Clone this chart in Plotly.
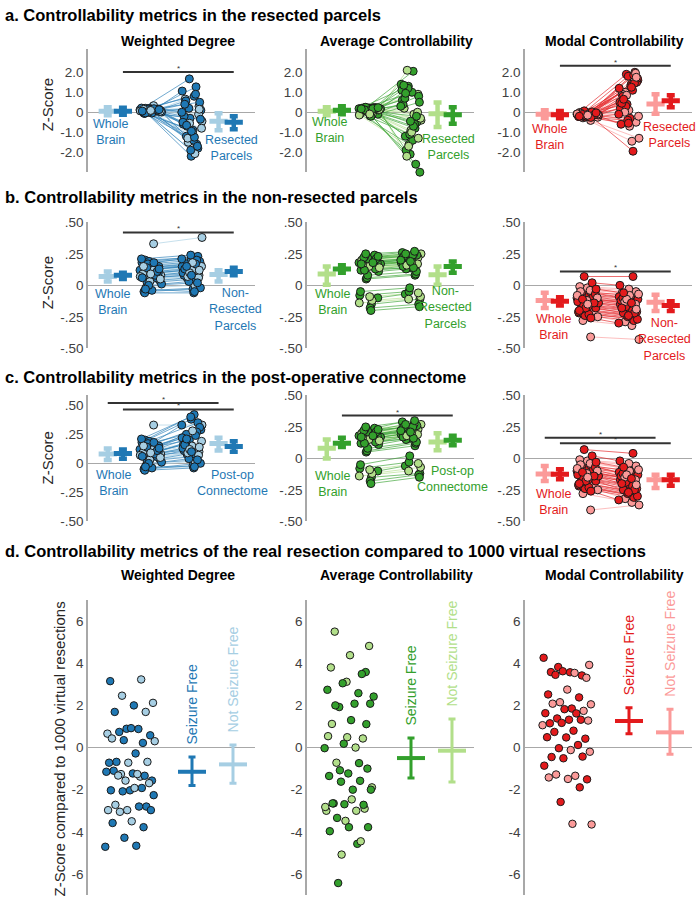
import numpy as np
import plotly.graph_objects as go

FONT = "Liberation Sans, Arial, Helvetica, sans-serif"
W, H = 700, 906

# ---------------- colours ----------------
PALETTE = {
    "blue": ("#a6cee3", "#1f78b4"),
    "green": ("#b2df8a", "#33a02c"),
    "red": ("#fb9a99", "#e31a1c"),
}
METRIC_COLORS = ["blue", "green", "red"]
METRIC_NAMES = ["Weighted Degree", "Average Controllability", "Modal Controllability"]
SECTION_TITLES = [
    "a. Controllability metrics in the resected parcels",
    "b. Controllability metrics in the non-resected parcels",
    "c. Controllability metrics in the post-operative connectome",
    "d. Controllability metrics of the real resection compared to 1000 virtual resections",
]
RIGHT_LABELS = ["Resected<br>Parcels", "Non-<br>Resected<br>Parcels", "Post-op<br>Connectome"]

# ---------------- data: rows a-c (paired per patient) ----------------
# 1 = seizure free (dark), 0 = not seizure free (light)
seizure_free = [1, 0, 1, 1, 0, 1, 1, 1, 0, 1, 1, 0, 1, 1, 1, 0, 1, 1, 0, 1,
                1, 1, 0, 1, 1, 0, 1, 1, 1, 0, 1, 0, 1, 1, 0, 1, 1, 1, 0, 1]

wd_whole = [0.12, 0.33, 0.20, 0.15, 0.05, 0.18, 0.10, 0.02, 0.08, 0.14,
            -0.05, 0.11, 0.19, 0.07, 0.13, -0.02, 0.04, 0.16, 0.09, 0.06,
            0.17, 0.01, 0.12, -0.06, 0.10, 0.03, 0.21, 0.08, 0.14, 0.05,
            -0.04, 0.15, 0.11, 0.00, 0.07, 0.18, -0.03, 0.13, 0.09, 0.06]
wd_resected = [1.67, -0.45, 0.80, -1.20, 0.30, -2.20, -0.60, 1.27, -1.50, 0.10,
               -0.90, 0.66, -1.80, -0.30, 1.06, -2.07, -0.70, 0.50, -1.10, -0.20,
               -1.60, 0.20, -0.80, -1.40, 0.57, -0.10, -1.90, -0.50, 0.90, -1.30,
               -0.35, -1.00, 0.40, -1.70, -0.55, 0.00, -1.25, -0.65, 0.15, -0.95]
wd_nonresected = [0.15, 0.38, 0.22, 0.17, 0.08, 0.21, 0.12, 0.05, 0.11, 0.16,
                  -0.03, 0.14, 0.23, 0.09, 0.15, 0.00, 0.06, 0.19, 0.12, 0.08,
                  0.20, 0.03, 0.15, -0.06, 0.12, 0.06, 0.24, 0.10, 0.17, 0.07,
                  -0.02, 0.18, 0.13, 0.02, 0.10, 0.21, -0.05, 0.15, 0.12, 0.08]
wd_postop = [0.20, 0.33, 0.42, 0.25, 0.10, 0.38, 0.16, 0.06, 0.14, 0.29,
             -0.02, 0.17, 0.35, 0.12, 0.22, 0.02, 0.08, 0.31, 0.15, 0.11,
             0.27, 0.04, 0.19, -0.04, 0.18, 0.07, 0.40, 0.13, 0.24, 0.09,
             0.00, 0.28, 0.16, 0.03, 0.12, 0.33, -0.03, 0.21, 0.14, 0.10]

ac_whole = [0.18, 0.22, 0.15, -0.10, 0.20, 0.12, 0.24, 0.05, 0.17, -0.15,
            0.19, 0.14, 0.21, -0.08, 0.16, 0.23, 0.11, -0.18, 0.20, 0.13,
            0.06, 0.17, -0.12, 0.22, 0.18, 0.15, -0.05, 0.19, 0.25, 0.14,
            -0.20, 0.16, 0.21, 0.08, -0.14, 0.18, 0.12, 0.23, -0.09, 0.17]
ac_resected = [1.30, -0.40, 2.05, -1.20, 0.90, -2.10, 0.60, -0.80, 2.10, -3.00,
               1.00, 0.20, -0.50, -1.60, 1.40, -0.10, -1.90, 0.80, -0.90, 0.40,
               -2.60, 1.20, -0.30, -1.40, 0.70, 0.00, -1.10, 1.10, -0.60, -2.20,
               0.50, -1.00, 1.35, -0.20, -1.70, 0.30, -0.70, 0.95, -1.30, -0.45]
ac_nonresected = [0.20, 0.25, 0.17, -0.07, 0.22, 0.14, 0.26, 0.08, 0.19, -0.11,
                  0.21, 0.16, 0.24, -0.05, 0.18, 0.25, 0.13, -0.15, 0.23, 0.15,
                  0.09, 0.19, -0.09, 0.24, 0.20, 0.17, -0.02, 0.21, 0.27, 0.16,
                  -0.17, 0.18, 0.23, 0.11, -0.11, 0.20, 0.14, 0.25, -0.06, 0.19]
ac_postop = [0.21, 0.27, 0.18, -0.06, 0.23, 0.16, 0.29, 0.10, 0.20, -0.12,
             0.22, 0.18, 0.26, -0.03, 0.19, 0.27, 0.15, -0.13, 0.24, 0.17,
             0.12, 0.20, -0.07, 0.25, 0.22, 0.19, 0.02, 0.23, 0.30, 0.18,
             -0.15, 0.20, 0.25, 0.13, -0.10, 0.22, 0.16, 0.27, -0.04, 0.21]

mc_whole = [-0.10, -0.41, -0.05, -0.18, -0.02, -0.22, -0.12, 0.07, -0.25, -0.08,
            -0.15, -0.03, -0.20, -0.13, -0.06, -0.28, -0.11, -0.17, -0.01, -0.09,
            -0.24, -0.14, -0.04, -0.19, -0.07, -0.12, -0.21, 0.02, -0.16, -0.10,
            -0.23, -0.05, -0.14, -0.18, -0.08, -0.26, -0.11, -0.03, -0.15, -0.20]
mc_resected = [1.90, -1.30, 1.40, 0.60, -0.50, 1.80, 0.20, -1.95, 1.00, 1.60,
               -0.30, 0.90, 2.00, 0.40, 1.20, -1.45, 0.70, 1.50, 0.10, -0.60,
               1.85, 0.30, -0.20, 1.30, 0.80, 1.95, -0.40, 0.50, 1.10, 0.00,
               1.70, -0.70, 0.45, 1.45, 0.85, -0.10, 1.25, 0.65, 1.75, -0.55]
mc_nonresected = [-0.13, -0.43, -0.08, -0.22, -0.05, -0.26, -0.15, 0.07, -0.29, -0.11,
                  -0.19, -0.06, -0.24, -0.16, -0.09, -0.32, -0.14, -0.21, -0.03, -0.12,
                  -0.28, -0.17, -0.07, -0.23, -0.10, -0.15, -0.25, 0.00, -0.20, -0.13,
                  -0.27, -0.08, -0.18, -0.22, -0.11, -0.30, -0.14, -0.06, -0.19, -0.24]
mc_postop = [-0.15, -0.37, -0.10, -0.25, -0.06, -0.29, -0.17, 0.04, -0.32, -0.13,
             -0.21, -0.08, -0.27, -0.18, -0.11, -0.35, -0.16, -0.24, -0.04, -0.14,
             -0.31, -0.19, -0.09, -0.26, -0.12, -0.17, -0.28, -0.02, -0.22, -0.15,
             -0.30, -0.10, -0.20, -0.25, -0.13, -0.33, -0.16, -0.07, -0.21, -0.27]

WHOLE = [wd_whole, ac_whole, mc_whole]
RIGHT = [[wd_resected, ac_resected, mc_resected],
         [wd_nonresected, ac_nonresected, mc_nonresected],
         [wd_postop, ac_postop, mc_postop]]

# group summaries (mean, low, high): [whole NSF, whole SF, right NSF, right SF]
STATS = [
    [[(0.05, -0.15, 0.25), (0.05, -0.13, 0.23), (-0.45, -0.90, -0.05), (-0.50, -0.85, -0.20)],
     [(0.05, -0.15, 0.25), (0.10, -0.10, 0.30), (-0.08, -0.74, 0.49), (-0.13, -0.57, 0.25)],
     [(-0.10, -0.30, 0.10), (-0.12, -0.30, 0.06), (0.41, -0.08, 0.90), (0.57, 0.25, 0.85)]],
    [[(0.07, 0.03, 0.11), (0.08, 0.05, 0.10), (0.085, 0.03, 0.12), (0.11, 0.08, 0.14)],
     [(0.09, 0.005, 0.15), (0.13, 0.10, 0.16), (0.084, 0.005, 0.15), (0.15, 0.10, 0.19)],
     [(-0.12, -0.18, -0.06), (-0.126, -0.16, -0.095), (-0.134, -0.205, -0.074), (-0.16, -0.205, -0.126)]],
    [[(0.08, 0.028, 0.127), (0.085, 0.04, 0.12), (0.17, 0.11, 0.22), (0.146, 0.10, 0.19)],
     [(0.08, 0.0, 0.15), (0.12, 0.09, 0.165), (0.13, 0.065, 0.20), (0.145, 0.105, 0.18)],
     [(-0.123, -0.18, -0.06), (-0.126, -0.165, -0.087), (-0.17, -0.236, -0.13), (-0.17, -0.218, -0.13)]],
]

# ---------------- data: row d ----------------
rd_wd = [3.15, 3.23, 2.46, 2.12, 2.00, 1.69, 1.69, 0.89, 0.66, 0.88,
         0.74, 0.58, 0.92, 0.43, 0.22, 0.35, 0.30, -0.28, -0.68, -0.68,
         -0.72, -0.72, -1.38, -1.26, -1.57, -1.23, -1.10, -1.34, -1.57, -1.15,
         -1.26, -1.33, -1.69, -2.03, -2.03, -1.92, -2.08, -2.26, -1.92, -2.72,
         -2.80, -2.97, -2.97, -2.80, -3.05, -2.97, -3.50, -3.58, -3.78, -4.28,
         -4.71, -4.66]
rd_wd_sf = [1, 0, 0, 0, 1, 1, 0, 1, 0, 1, 1, 1, 1, 0, 1, 1, 0, 1, 1, 0,
            0, 1, 0, 0, 1, 1, 1, 1, 0, 1, 0, 0, 0, 1, 1, 1, 1, 1, 0, 0,
            1, 0, 0, 1, 0, 1, 0, 1, 1, 1, 1, 1]
rd_ac = [5.50, 3.58, 3.12, 2.74, 2.58, 1.92, 2.08, 1.30, 1.12, 0.43,
         0.18, -0.03, 0.00, -0.72, -1.00, -1.23, -1.35, -1.58, -1.62, -1.89,
         -2.00, -2.65, -2.90, -3.48, -3.00, -4.57, -6.43, 4.82, 4.38, 3.80,
         3.49, 3.05, 2.42, 2.08, 2.00, 1.11, 0.49, 0.54, -0.74, -1.08,
         -2.00, -2.46, -2.65, -2.72, -2.69, -2.82, -3.00, -3.34, -3.78, -3.78,
         -3.97, -4.45, -5.08]
rd_ac_sf = [0, 1, 0, 1, 1, 1, 1, 1, 0, 0, 1, 1, 0, 0, 1, 1, 1, 1, 1, 0,
            1, 1, 0, 0, 0, 1, 1, 0, 0, 0, 1, 1, 1, 1, 1, 1, 0, 0, 1, 1,
            1, 0, 1, 1, 1, 0, 0, 1, 1, 1, 1, 0, 0]
rd_mc = [3.82, 3.92, 3.57, 3.58, 3.42, 3.62, 4.26, 3.54, 3.45, 3.31,
         2.75, 2.52, 2.38, 2.15, 2.05, 1.85, 2.08, 1.74, 1.82, 1.63,
         1.62, 1.38, 1.28, 1.32, 1.15, 1.32, 1.17, 1.06, 0.80, 0.74,
         0.42, 0.48, 0.49, 0.12, -0.03, -0.20, -0.12, -0.45, -0.43, -0.51,
         -0.86, -1.34, -1.28, -1.51, -1.49, -1.42, -1.89, -2.58, -3.65, -3.62]
rd_mc_sf = [1, 0, 1, 1, 1, 1, 1, 0, 1, 0, 0, 1, 1, 0, 0, 1, 0, 0, 1, 1,
            1, 1, 0, 1, 1, 1, 1, 0, 1, 1, 1, 1, 1, 1, 1, 0, 0, 1, 1, 1,
            1, 0, 0, 1, 0, 0, 1, 1, 0, 0]
RD_VALUES = [rd_wd, rd_ac, rd_mc]
RD_SF = [rd_wd_sf, rd_ac_sf, rd_mc_sf]
# (mean, low, high) for [seizure free, not seizure free]
RD_STATS = [
    [(-1.15, -1.80, -0.45), (-0.80, -1.69, 0.12)],
    [(-0.50, -1.45, 0.45), (-0.15, -1.63, 1.35)],
    [(1.26, 0.66, 1.89), (0.72, -0.32, 1.82)],
]

# ---------------- layout geometry ----------------
COLS_PX = [(88, 255), (307, 474), (525, 692)]
ROWS_PX = [(43, 168), (219, 347), (395, 523), (603, 903)]
XRANGE = [0, 11]
YRANGES = [[[-3.0, 3.15]] * 3,
           [[-0.5, 0.5]] * 3,
           [[-0.5, 0.585], [-0.5, 0.5], [-0.5, 0.5]],
           [[-7, 7]] * 3]
TICKS_A = ([-2, -1, 0, 1, 2], ["-2.0", "-1.0", "0", "1.0", "2.0"])
TICKS_BC = ([-0.5, -0.25, 0, 0.25, 0.5], ["-.50", "-.25", "0", ".25", ".50"])
TICKS_D = ([-6, -4, -2, 0, 2, 4, 6], ["-6", "-4", "-2", "0", "2", "4", "6"])
ROW_TICKS = [TICKS_A, TICKS_BC, TICKS_BC, TICKS_D]

BAR_POS = [1.3, 2.3, 8.6, 9.6]
PRE_CENTER, POST_CENTER = 4.15, 6.85
RD_CENTER, RD_SF_POS, RD_NSF_POS = 2.75, 6.85, 9.55

LABEL_POS = {
    (0, 0): ((1.45, -1.0), (9.45, -1.8)),
    (0, 1): ((1.5, -0.88), (9.3, -1.75)),
    (0, 2): ((1.6, -1.23), (9.55, -1.16)),
    (1, 0): ((1.6, -0.13), (9.7, -0.19)),
    (1, 1): ((1.7, -0.13), (9.1, -0.18)),
    (1, 2): ((1.85, -0.335), (9.2, -0.43)),
    (2, 0): ((1.65, -0.17), (9.5, -0.17)),
    (2, 1): ((1.7, -0.2), (9.6, -0.16)),
    (2, 2): ((1.85, -0.35), None),
}
SIG = {
    (0, 0): [(2.3, 9.6, 2.02)],
    (0, 2): [(2.3, 9.6, 2.33)],
    (1, 0): [(2.3, 9.6, 0.42)],
    (1, 2): [(2.3, 9.6, 0.11)],
    (2, 0): [(1.3, 8.6, 0.52), (2.3, 9.6, 0.465)],
    (2, 1): [(2.3, 9.6, 0.34)],
    (2, 2): [(1.3, 8.6, 0.165), (2.3, 9.6, 0.12)],
}

def jitter(n, phase, spread):
    return ((np.arange(n) * 0.6180339887 + phase) % 1.0 - 0.5) * spread

fig = go.Figure()
layout = {}
annotations = []

def refs(k):
    return ("x" if k == 1 else f"x{k}"), ("y" if k == 1 else f"y{k}")

for r in range(4):
    for c in range(3):
        k = r * 3 + c + 1
        xr, yr = refs(k)
        x0, x1 = COLS_PX[c]
        t, b = ROWS_PX[r]
        tv, tt = ROW_TICKS[r]
        layout["xaxis" if k == 1 else f"xaxis{k}"] = dict(
            domain=[x0 / W, x1 / W], range=XRANGE, anchor=yr,
            showline=False, showgrid=False, zeroline=False, showticklabels=False, ticks="")
        layout["yaxis" if k == 1 else f"yaxis{k}"] = dict(
            domain=[1 - b / H, 1 - t / H], range=YRANGES[r][c], anchor=xr,
            showline=True, linecolor="#a8a8a8", linewidth=1.5, showgrid=False,
            zeroline=True, zerolinecolor="#a8a8a8", zerolinewidth=1,
            ticks="", tickvals=tv, ticktext=tt,
            tickfont=dict(family=FONT, size=13.5, color="#404040"))

N = len(seizure_free)
pre_j = jitter(N, 0.0, 1.45)
post_j = jitter(N, 0.37, 1.35)

for r in range(3):
    for c in range(3):
        k = r * 3 + c + 1
        xr, yr = refs(k)
        light, dark = PALETTE[METRIC_COLORS[c]]
        wb = WHOLE[c]
        right = RIGHT[r][c]
        pre_x = PRE_CENTER + pre_j
        post_x = POST_CENTER + post_j
        for g, col in [(0, light), (1, dark)]:
            lx, ly = [], []
            for i in range(N):
                if seizure_free[i] == g:
                    lx += [pre_x[i], post_x[i], None]
                    ly += [wb[i], right[i], None]
            fig.add_trace(go.Scatter(x=lx, y=ly, mode="lines", xaxis=xr, yaxis=yr,
                                     line=dict(color=col, width=0.7), opacity=0.9,
                                     hoverinfo="skip", showlegend=False))
        cols = [dark if s else light for s in seizure_free]
        for xs, ys in [(pre_x, wb), (post_x, right)]:
            fig.add_trace(go.Scatter(x=xs, y=ys, mode="markers", xaxis=xr, yaxis=yr,
                                     marker=dict(size=8, color=cols, line=dict(color="#1a1a1a", width=1)),
                                     cliponaxis=False, showlegend=False))
        for pos, (m, lo, hi), col in zip(BAR_POS, STATS[r][c], [light, dark, light, dark]):
            fig.add_trace(go.Scatter(
                x=[pos], y=[m], mode="markers", xaxis=xr, yaxis=yr, showlegend=False,
                marker=dict(symbol="line-ew", size=13, line=dict(width=5, color=col)),
                error_y=dict(type="data", symmetric=False, array=[hi - m], arrayminus=[m - lo],
                             color=col, thickness=4.5, width=4)))
        for (sx0, sx1, sy) in SIG.get((r, c), []):
            fig.add_trace(go.Scatter(x=[sx0, sx1], y=[sy, sy], mode="lines", xaxis=xr, yaxis=yr,
                                     line=dict(color="#333333", width=2), showlegend=False,
                                     cliponaxis=False))
            annotations.append(dict(x=(sx0 + sx1) / 2, y=sy, xref=xr, yref=yr, text="*",
                                    showarrow=False, yanchor="bottom", yshift=-3,
                                    font=dict(family=FONT, size=8, color="#333333")))
        lp, rp = LABEL_POS[(r, c)]
        annotations.append(dict(x=lp[0], y=lp[1], xref=xr, yref=yr, text="Whole<br>Brain",
                                showarrow=False, font=dict(family=FONT, size=12.5, color=dark)))
        if rp is not None:
            annotations.append(dict(x=rp[0], y=rp[1], xref=xr, yref=yr, text=RIGHT_LABELS[r],
                                    showarrow=False, font=dict(family=FONT, size=12.5, color=dark)))

# row d
for c in range(3):
    k = 9 + c + 1
    xr, yr = refs(k)
    light, dark = PALETTE[METRIC_COLORS[c]]
    vals = RD_VALUES[c]
    flags = RD_SF[c]
    xs = RD_CENTER + jitter(len(vals), 0.11 * (c + 1), 3.3)
    cols = [dark if s else light for s in flags]
    fig.add_trace(go.Scatter(x=xs, y=vals, mode="markers", xaxis=xr, yaxis=yr, showlegend=False,
                             marker=dict(size=7.5, color=cols, line=dict(color="#1a1a1a", width=1))))
    for pos, (m, lo, hi), col, txt in zip([RD_SF_POS, RD_NSF_POS], RD_STATS[c], [dark, light],
                                          ["Seizure Free", "Not Seizure Free"]):
        fig.add_trace(go.Scatter(
            x=[pos], y=[m], mode="markers", xaxis=xr, yaxis=yr, showlegend=False,
            marker=dict(symbol="line-ew", size=20, line=dict(width=4, color=col)),
            error_y=dict(type="data", symmetric=False, array=[hi - m], arrayminus=[m - lo],
                         color=col, thickness=3, width=3.5)))
        annotations.append(dict(x=pos, y=hi + 0.5, xref=xr, yref=yr, text=txt, textangle=-90,
                                showarrow=False, xanchor="center", yanchor="bottom",
                                font=dict(family=FONT, size=14, color=col)))

# titles
for i, (txt, ypx) in enumerate(zip(SECTION_TITLES, [8, 193, 376, 553])):
    annotations.append(dict(x=3 / W, y=1 - ypx / H, xref="paper", yref="paper", text=f"<b>{txt}</b>",
                            showarrow=False, xanchor="left", yanchor="middle",
                            font=dict(family=FONT, size=16.5, color="#000000")))
for ypx in [35, 578]:
    for c in range(3):
        cx = (COLS_PX[c][0] + COLS_PX[c][1]) / 2 + 6
        annotations.append(dict(x=cx / W, y=1 - ypx / H, xref="paper", yref="paper",
                                text=f"<b>{METRIC_NAMES[c]}</b>", showarrow=False,
                                xanchor="center", yanchor="middle",
                                font=dict(family=FONT, size=14, color="#000000")))
for ypx in [100, 281, 459]:
    annotations.append(dict(x=47 / W, y=1 - ypx / H, xref="paper", yref="paper", text="Z-Score",
                            textangle=-90, showarrow=False, xanchor="center", yanchor="middle",
                            font=dict(family=FONT, size=15, color="#262626")))
annotations.append(dict(x=59 / W, y=1 - 755 / H, xref="paper", yref="paper",
                        text="Z-Score compared to 1000 virtual resections",
                        textangle=-90, showarrow=False, xanchor="center", yanchor="middle",
                        font=dict(family=FONT, size=15, color="#262626")))

fig.update_layout(width=W, height=H, margin=dict(l=0, r=0, t=0, b=0),
                  paper_bgcolor="white", plot_bgcolor="white", showlegend=False,
                  annotations=annotations, **layout)
fig.write_html("out.html", config={"displayModeBar": False},
               post_script="document.body.style.margin='0px';document.body.style.overflow='hidden';")
